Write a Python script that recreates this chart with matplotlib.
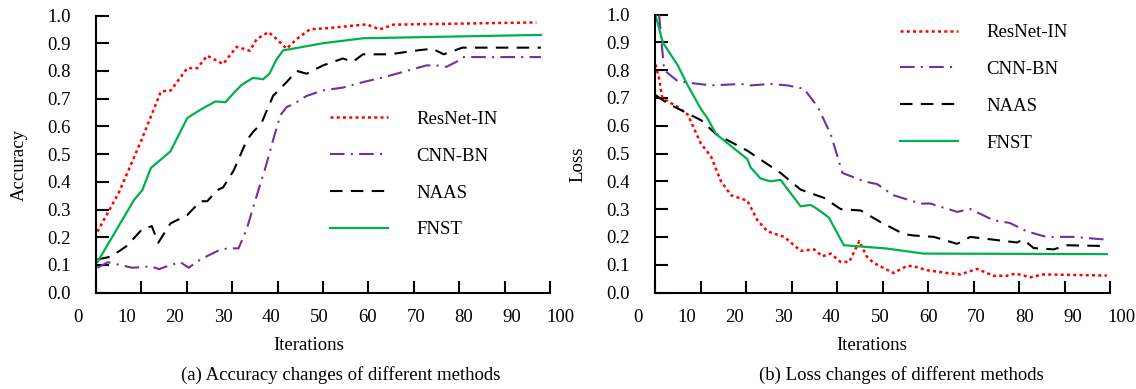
import matplotlib.pyplot as plt
import numpy as np

plt.rcParams['font.family'] = ['Liberation Serif', 'DejaVu Serif']

# ---- accuracy data (a)
res_acc_x = [0.3, 5, 10, 14.3, 16.5, 20.1, 22.3, 24.5, 28, 31, 33.9, 35.4, 38, 39.8, 42, 44.2, 47.1, 51.5, 59.6, 62.5, 65.5, 97]
res_acc_y = [0.22, 0.36, 0.55, 0.726, 0.73, 0.81, 0.81, 0.855, 0.825, 0.887, 0.873, 0.915, 0.94, 0.915, 0.88, 0.915, 0.95, 0.955, 0.968, 0.95, 0.967, 0.975]

cnn_acc_x = [0.3, 2.6, 8, 12.1, 13.9, 16.4, 18.6, 20.4, 23, 26.7, 28.9, 31.4, 33.2, 35.4, 37.3, 39, 40.6, 42, 43.5, 46.4, 50, 54.4, 58.9, 64, 68.4, 72.8, 75, 77.2, 79.4, 80.8, 98]
cnn_acc_y = [0.09, 0.11, 0.09, 0.095, 0.085, 0.1, 0.11, 0.09, 0.12, 0.15, 0.16, 0.16, 0.23, 0.35, 0.45, 0.55, 0.64, 0.67, 0.68, 0.71, 0.73, 0.74, 0.76, 0.78, 0.8, 0.82, 0.82, 0.815, 0.833, 0.85, 0.85]

naas_acc_x = [0.3, 3.3, 6.9, 10.2, 12.3, 13.7, 16.4, 20.1, 23, 24.5, 26.7, 28, 30.3, 33.2, 34.6, 36.4, 39, 42, 44.2, 46.4, 50, 54.4, 56.6, 58.8, 64.7, 71.2, 74.1, 76.6, 80.7, 98]
naas_acc_y = [0.12, 0.13, 0.17, 0.23, 0.24, 0.18, 0.25, 0.28, 0.33, 0.33, 0.37, 0.38, 0.44, 0.55, 0.58, 0.61, 0.71, 0.76, 0.8, 0.79, 0.82, 0.845, 0.833, 0.86, 0.86, 0.875, 0.88, 0.86, 0.884, 0.884]

fnst_acc_x = [0.3, 8.4, 10.2, 12.1, 16.4, 20.1, 23, 26.3, 28.5, 30.3, 32.1, 34.6, 36.8, 38.2, 39.7, 41.2, 50, 58.9, 98]
fnst_acc_y = [0.11, 0.335, 0.37, 0.45, 0.51, 0.63, 0.66, 0.69, 0.687, 0.72, 0.75, 0.775, 0.77, 0.79, 0.84, 0.874, 0.9, 0.918, 0.93]

# ---- loss data (b)
res_loss_x = [0.1, 0.9, 1.6, 5, 7.2, 10.1, 12.3, 14.5, 16.7, 20.3, 22.5, 24.7, 28.4, 32, 35, 36.8, 38.6, 40.8, 42.7, 44.9, 46.5, 48, 52.4, 55.3, 56.7, 59.8, 64.2, 67.1, 70.8, 74.4, 77.3, 79.2, 82.5, 85.4, 99.3]
res_loss_y = [0.82, 0.77, 0.7, 0.667, 0.64, 0.535, 0.49, 0.4, 0.35, 0.33, 0.26, 0.22, 0.2, 0.15, 0.155, 0.13, 0.14, 0.11, 0.11, 0.185, 0.13, 0.107, 0.07, 0.095, 0.095, 0.08, 0.07, 0.065, 0.085, 0.06, 0.06, 0.068, 0.055, 0.065, 0.061]

cnn_loss_x = [0.9, 2, 5, 7.2, 12.3, 18.9, 21, 25.4, 29.1, 32.7, 35.7, 38.6, 41.2, 45.9, 48.8, 52.4, 58.3, 60.5, 66.4, 69.3, 74.4, 78, 81.7, 86, 91.9, 99.3]
cnn_loss_y = [1.0, 0.8, 0.76, 0.755, 0.745, 0.75, 0.745, 0.75, 0.745, 0.733, 0.67, 0.57, 0.43, 0.4, 0.39, 0.35, 0.32, 0.32, 0.29, 0.3, 0.26, 0.25, 0.22, 0.2, 0.2, 0.19]

naas_loss_x = [0.1, 2.8, 10.1, 13.4, 20.3, 27.6, 32, 37.2, 40.8, 45.2, 49.6, 54.7, 56.9, 61.3, 66.4, 69.3, 74.4, 79.5, 81, 83.2, 87.6, 90.5, 99.3]
naas_loss_y = [0.71, 0.68, 0.62, 0.57, 0.51, 0.43, 0.37, 0.34, 0.3, 0.295, 0.253, 0.21, 0.205, 0.2, 0.175, 0.2, 0.19, 0.18, 0.19, 0.16, 0.155, 0.17, 0.167]

fnst_loss_x = [0.1, 1.7, 5, 7.2, 10.1, 11.6, 13.4, 20.3, 21, 23.2, 25.4, 27.6, 32, 34.2, 35.7, 38.2, 41.5, 49.6, 51, 59, 99.3]
fnst_loss_y = [1.0, 0.9, 0.817, 0.745, 0.66, 0.625, 0.57, 0.48, 0.45, 0.41, 0.4, 0.405, 0.31, 0.315, 0.3, 0.27, 0.17, 0.16, 0.158, 0.14, 0.138]

labels = ['ResNet-IN', 'CNN-BN', 'NAAS', 'FNST']
xtick_vals = [0, 10, 20, 30, 40, 50, 60, 70, 80, 90, 100]
ytick_vals = [0.0, 0.1, 0.2, 0.3, 0.4, 0.5, 0.6, 0.7, 0.8, 0.9, 1.0]

W, H = 1136, 389
fig = plt.figure(figsize=(W / 100, H / 100), dpi=100)
axA = fig.add_axes([96 / W, (H - 292.7) / H, 454 / W, 277.2 / H])
axB = fig.add_axes([655 / W, (H - 292.5) / H, 455 / W, 278 / H])

FS = 13.5
styles = [
    dict(color='#ff0000', lw=1.8, linestyle=(0, (1.2, 1.3))),
    dict(color='#7030a0', lw=1.5, linestyle=(0, (7, 3, 1, 3))),
    dict(color='black', lw=1.5, linestyle=(0, (6, 4))),
    dict(color='#00b050', lw=1.6, linestyle='-'),
]


def setup(ax, xoff, ylabel, leg_anchor):
    ax.set_xlim(0, 100)
    ax.set_ylim(0, 1.0)
    for s in ['top', 'right']:
        ax.spines[s].set_visible(False)
    for s in ['left', 'bottom']:
        ax.spines[s].set_linewidth(1.5)
    ax.set_xticks(xtick_vals)
    ax.set_xticklabels([])
    ax.set_yticks(ytick_vals)
    ax.set_yticklabels(['%.1f' % v for v in ytick_vals], fontsize=FS)
    ax.tick_params(direction='in', length=9, width=1.5)
    ax.tick_params(axis='y', pad=18)
    trans = ax.get_xaxis_transform()
    for v in xtick_vals:
        ax.text(xoff + 1.062 * v, -0.09, str(v), transform=trans, ha='center',
                va='center', fontsize=FS, clip_on=False)
    ax.set_ylabel(ylabel, fontsize=FS)
    ax.yaxis.set_label_coords(-0.15, 0.46)
    ax.legend(loc='upper left', bbox_to_anchor=leg_anchor, frameon=False,
              fontsize=FS, handlelength=3.1, handletextpad=1.5,
              labelspacing=1.05, borderpad=0, borderaxespad=0)


series_a = [(res_acc_x, res_acc_y), (cnn_acc_x, cnn_acc_y), (naas_acc_x, naas_acc_y), (fnst_acc_x, fnst_acc_y)]
series_b = [(res_loss_x, res_loss_y), (cnn_loss_x, cnn_loss_y), (naas_loss_x, naas_loss_y), (fnst_loss_x, fnst_loss_y)]
for (x, y), lab, st in zip(series_a, labels, styles):
    axA.plot(x, y, label=lab, **st)
for (x, y), lab, st in zip(series_b, labels, styles):
    axB.plot(x, y, label=lab, **st)

setup(axA, -3.9, 'Accuracy', (0.515, 0.656))
setup(axB, -3.7, 'Loss', (0.538, 0.966))

fig.text(309 / W, 1 - 346 / H, 'Iterations', ha='center', va='center', fontsize=FS)
fig.text(872 / W, 1 - 346 / H, 'Iterations', ha='center', va='center', fontsize=FS)
fig.text(341 / W, 1 - 375 / H, '(a) Accuracy changes of different methods', ha='center', va='center', fontsize=FS)
fig.text(901 / W, 1 - 375 / H, '(b) Loss changes of different methods', ha='center', va='center', fontsize=FS)

fig.savefig('out.png', dpi=100)
